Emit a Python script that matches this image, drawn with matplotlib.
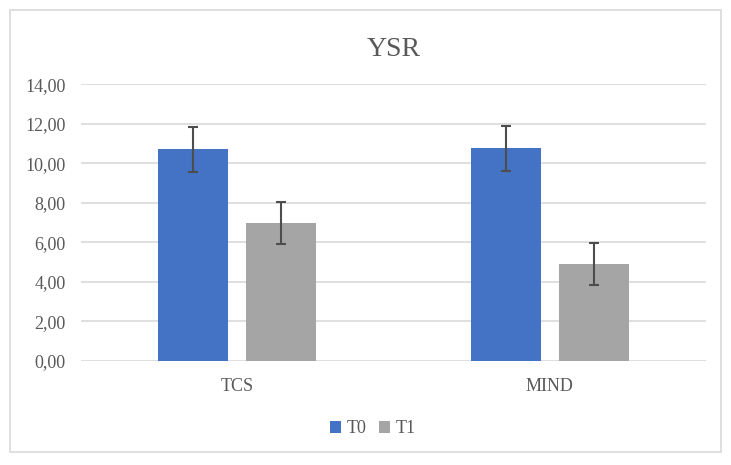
import matplotlib
matplotlib.use("Agg")
import matplotlib.pyplot as plt
import numpy as np
from matplotlib.patches import Rectangle
from matplotlib.ticker import FuncFormatter

categories = ["TCS", "MIND"]
series_names = ["T0", "T1"]
t0_values = [10.70, 10.75]
t1_values = [6.98, 4.90]
t0_err = [1.15, 1.12]
t1_err = [1.08, 1.08]
y_ticks = [0, 2, 4, 6, 8, 10, 12, 14]

plt.rcParams["font.family"] = ["Liberation Serif", "DejaVu Serif"]
text_color = "#595959"

fig = plt.figure(figsize=(7.31, 4.65), dpi=100)
fig.patches.append(Rectangle((0.013, 0.028), 0.974, 0.95, transform=fig.transFigure,
                             fill=False, edgecolor="#d9d9d9", linewidth=1.2))
ax = fig.add_axes([0.111, 0.224, 0.855, 0.595])

x = np.arange(len(categories))
width = 0.224
off = 0.141
ebar = dict(ecolor="#4d4d4d", elinewidth=1.5, capsize=3.5, capthick=1.5)
ax.bar(x - off, t0_values, width, color="#4472C4", label=series_names[0], zorder=3,
       yerr=t0_err, error_kw=ebar)
ax.bar(x + off, t1_values, width, color="#A5A5A5", label=series_names[1], zorder=3,
       yerr=t1_err, error_kw=ebar)

ax.set_xlim(-0.5, 1.5)
ax.set_ylim(0, 14)
ax.set_yticks(y_ticks)
ax.yaxis.set_major_formatter(FuncFormatter(lambda v, p: f"{v:.2f}".replace(".", ",")))
ax.set_xticks(x)
ax.set_xticklabels(categories)
ax.grid(axis="y", color="#d9d9d9", linewidth=1.2, zorder=0)
for s in ax.spines.values():
    s.set_visible(False)
ax.tick_params(length=0, colors=text_color, labelsize=13)
ax.tick_params(axis="x", pad=12)
ax.tick_params(axis="y", pad=11)

ax.set_title("YSR", fontsize=20, color=text_color, pad=20)

fig.legend(loc="center", bbox_to_anchor=(0.51, 0.078), ncol=2, frameon=False,
           handlelength=0.6, handleheight=0.6, handletextpad=0.3, columnspacing=0.7,
           fontsize=13, labelcolor=text_color)

fig.savefig("out.png", dpi=100)
